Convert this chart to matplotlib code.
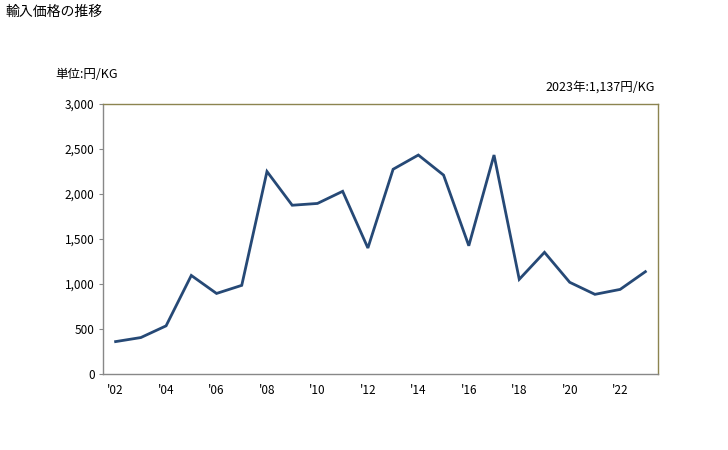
import matplotlib
matplotlib.use('Agg')
import matplotlib.pyplot as plt

plt.rcParams['font.family'] = ['Noto Sans CJK JP', 'DejaVu Sans']

# Data
years = list(range(2002, 2024))
prices = [360, 405, 535, 1095, 895, 985, 2250, 1875, 1895, 2030,
          1400, 2275, 2433, 2210, 1425, 2433, 1052, 1352, 1019, 885,
          940, 1137]
xtick_years = list(range(2002, 2024, 2))
xtick_labels = ["'%02d" % (y % 100) for y in xtick_years]
yticks = [0, 500, 1000, 1500, 2000, 2500, 3000]

fig = plt.figure(figsize=(7.28, 4.5), dpi=100)
ax = fig.add_axes([103 / 728, 76 / 450, 555 / 728, 270 / 450])

ax.plot(years, prices, color='#264976', linewidth=2.0, solid_joinstyle='miter')

ax.set_xlim(2001.5, 2023.5)
ax.set_ylim(0, 3000)
ax.set_xticks(xtick_years)
ax.set_xticklabels(xtick_labels)
ax.set_yticks(yticks)
ax.set_yticklabels(['{:,}'.format(v) for v in yticks])

ax.tick_params(axis='x', length=0, pad=7, labelsize=8.5)
ax.tick_params(axis='y', length=3, color='#888888', pad=3, labelsize=8.5)

for side in ('left', 'bottom'):
    ax.spines[side].set_color('#888888')
for side in ('top', 'right'):
    ax.spines[side].set_color('#8c8450')
for s in ax.spines.values():
    s.set_linewidth(1.0)

fig.text(5 / 728, 1 - 12 / 450, '輸入価格の推移', fontsize=10, va='center', ha='left')
fig.text(55 / 728, 1 - 75 / 450, '単位:円/KG', fontsize=9, va='center', ha='left')
fig.text(655 / 728, 1 - 87 / 450, '2023年:1,137円/KG', fontsize=9, va='center', ha='right')

fig.savefig('out.png', dpi=100)
